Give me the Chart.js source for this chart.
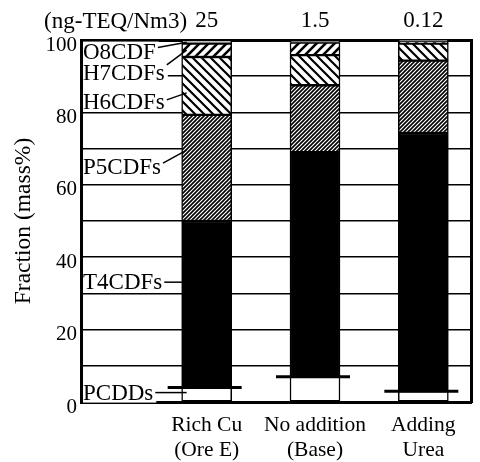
<!DOCTYPE html>
<html>
<head>
<meta charset="utf-8">
<script src="https://cdn.jsdelivr.net/npm/chart.js@4.4.1/dist/chart.umd.min.js"></script>
<style>
  html, body { margin: 0; padding: 0; background: #fff; }
</style>
</head>
<body>
<canvas id="chart" width="480" height="462"></canvas>
<script>
/* ============================
   Datos
============================ */
const categories = [["Rich Cu", "(Ore E)"], ["No addition", "(Base)"], ["Adding", "Urea"]];
const teqValues = ["25", "1.5", "0.12"];
const teqUnit = "(ng-TEQ/Nm3)";
const yTicks = [0, 20, 40, 60, 80, 100];
const seriesNames = ["PCDDs", "T4CDFs", "P5CDFs", "H6CDFs", "H7CDFs", "O8CDF"];
const pcdds = [4, 7, 3];
const t4cdfs = [46, 62, 71.3];
const p5cdfs = [29.3, 18.5, 20];
const h6cdfs = [16, 8.3, 4.7];
const h7cdfs = [3.7, 3.5, 0.5];
const o8cdf = [1, 0.7, 0.5];

/* ============================
   Estilo
============================ */
const FONT = "'Liberation Serif', 'Times New Roman', serif";
const canvas = document.getElementById("chart");
const ctx = canvas.getContext("2d");

// tile with 45deg lines, "/" or "\"
function hatch(size, width, dir) {
    const c = document.createElement("canvas");
    c.width = size; c.height = size;
    const g = c.getContext("2d");
    g.fillStyle = "#fff";
    g.fillRect(0, 0, size, size);
    g.strokeStyle = "#000";
    g.lineWidth = width;
    g.beginPath();
    for (let k = -1; k <= 1; k++) {
        if (dir === "/") { g.moveTo(k * size - 1, size + 1); g.lineTo(k * size + size + 1, -1); }
        else { g.moveTo(k * size - 1, -1); g.lineTo(k * size + size + 1, size + 1); }
    }
    g.stroke();
    return ctx.createPattern(c, "repeat");
}

const fills = ["#fff", "#000", hatch(4, 1.6, "/"), hatch(9, 2.2, "\\"), hatch(9, 2.6, "/"), "#fff"];
const seriesData = [pcdds, t4cdfs, p5cdfs, h6cdfs, h7cdfs, o8cdf];

const datasets = seriesNames.map((name, s) => ({
    label: name,
    data: seriesData[s].map((v, i) => ({ x: i + 1, y: v })),
    backgroundColor: fills[s],
    borderColor: "#000",
    borderWidth: 1.5,
    borderSkipped: false,
    barThickness: 50,
}));

const X_MIN = -0.16, X_MAX = 3.44;
const catTicks = (scale) => { scale.ticks = categories.map((c, i) => ({ value: i + 1 })); };

/* ============================
   Etiquetas (anotaciones)
============================ */
// at: label height (value), to: where the leader line ends on bar 1 (value)
const notes = [
    { text: "O8CDF", at: 96.8, to: 99.4, dy: -4 },
    { text: "H7CDFs", at: 90.9, to: 97.2, dy: -8 },
    { text: "H6CDFs", at: 82.9, to: 85.4, dy: -2 },
    { text: "P5CDFs", at: 64.9, to: 69.6, dy: -4 },
    { text: "T4CDFs", at: 33.1, to: 33.1, dy: 0 },
    { text: "PCDDs", at: 2.6, to: 2.6, dy: 0 },
];

const notesPlugin = {
    id: "notes",
    afterDatasetsDraw(chart) {
        const c = chart.ctx;
        const { left } = chart.chartArea;
        const y = chart.scales.y;
        const bars = chart.getDatasetMeta(0).data;
        c.save();

        // PCDDs top lines, wider than the bars
        c.strokeStyle = "#000";
        c.lineWidth = 3;
        bars.forEach((b) => {
            c.beginPath();
            c.moveTo(b.x - b.width / 2 - 14, b.y);
            c.lineTo(b.x + b.width / 2 + 10, b.y);
            c.stroke();
        });

        const barLeft = bars[0].x - bars[0].width / 2;
        c.font = `23px ${FONT}`;
        c.textBaseline = "middle";
        c.textAlign = "left";
        notes.forEach((n) => {
            const ty = y.getPixelForValue(n.at);
            const w = c.measureText(n.text).width;
            c.fillStyle = "#fff";
            c.fillRect(left + 2, ty - 10, w + 3, 20);
            c.fillStyle = "#000";
            c.fillText(n.text, left + 2, ty + 1);
            c.lineWidth = 1.5;
            c.beginPath();
            c.moveTo(left + 4 + w, ty + n.dy);
            c.lineTo(barLeft + 5, y.getPixelForValue(n.to));
            c.stroke();
        });

        // unit in front of the TEQ values
        const top = chart.scales.xTop;
        c.font = `23px ${FONT}`;
        const w25 = c.measureText(teqValues[0]).width;
        c.textAlign = "right";
        c.fillText(teqUnit, top.getPixelForValue(1) - w25 / 2 - 8, 22);
        c.restore();
    },
};

/* ============================
   Gráfica
============================ */
new Chart(ctx, {
    type: "bar",
    data: { datasets },
    options: {
        responsive: false,
        animation: false,
        devicePixelRatio: 1,
        layout: { padding: 0 },
        plugins: { legend: { display: false }, tooltip: { enabled: false } },
        scales: {
            x: {
                type: "linear", position: "bottom", stacked: true, offset: false,
                min: X_MIN, max: X_MAX,
                afterBuildTicks: catTicks,
                afterFit: (s) => { s.height = 60; },
                grid: { display: false, drawTicks: false, offset: false },
                border: { display: true, width: 3, color: "#000" },
                ticks: {
                    color: "#000", padding: 11, maxRotation: 0, autoSkip: false,
                    font: { family: FONT, size: 21.5, lineHeight: 1.17 },
                    callback: (v) => categories[v - 1] || "",
                },
            },
            xTop: {
                type: "linear", axis: "x", position: "top", offset: false,
                min: X_MIN, max: X_MAX,
                afterBuildTicks: catTicks,
                afterFit: (s) => { s.height = 40; },
                grid: { display: false, drawTicks: false, offset: false },
                border: { display: true, width: 3, color: "#000" },
                ticks: {
                    color: "#000", padding: 5, maxRotation: 0, autoSkip: false,
                    font: { family: FONT, size: 23 },
                    callback: (v) => teqValues[v - 1] || "",
                },
            },
            y: {
                stacked: true, min: 0, max: 100,
                afterFit: (s) => { s.width = 81; },
                grid: { color: "#000", lineWidth: 1.5, drawTicks: false },
                border: { display: true, width: 3, color: "#000" },
                ticks: {
                    stepSize: 10, color: "#000", padding: 4, labelOffset: 5,
                    font: { family: FONT, size: 21 },
                    callback: (v) => (yTicks.includes(v) ? v : ""),
                },
                title: {
                    display: true, text: "Fraction (mass%)", color: "#000",
                    font: { family: FONT, size: 23.5 },
                    padding: { top: 10, bottom: 0 },
                },
            },
            yR: {
                type: "linear", position: "right", min: 0, max: 100,
                afterFit: (s) => { s.width = 9; },
                grid: { display: false, drawTicks: false },
                border: { display: true, width: 3, color: "#000" },
                ticks: { display: false },
            },
        },
    },
    plugins: [notesPlugin],
});
</script>
</body>
</html>
